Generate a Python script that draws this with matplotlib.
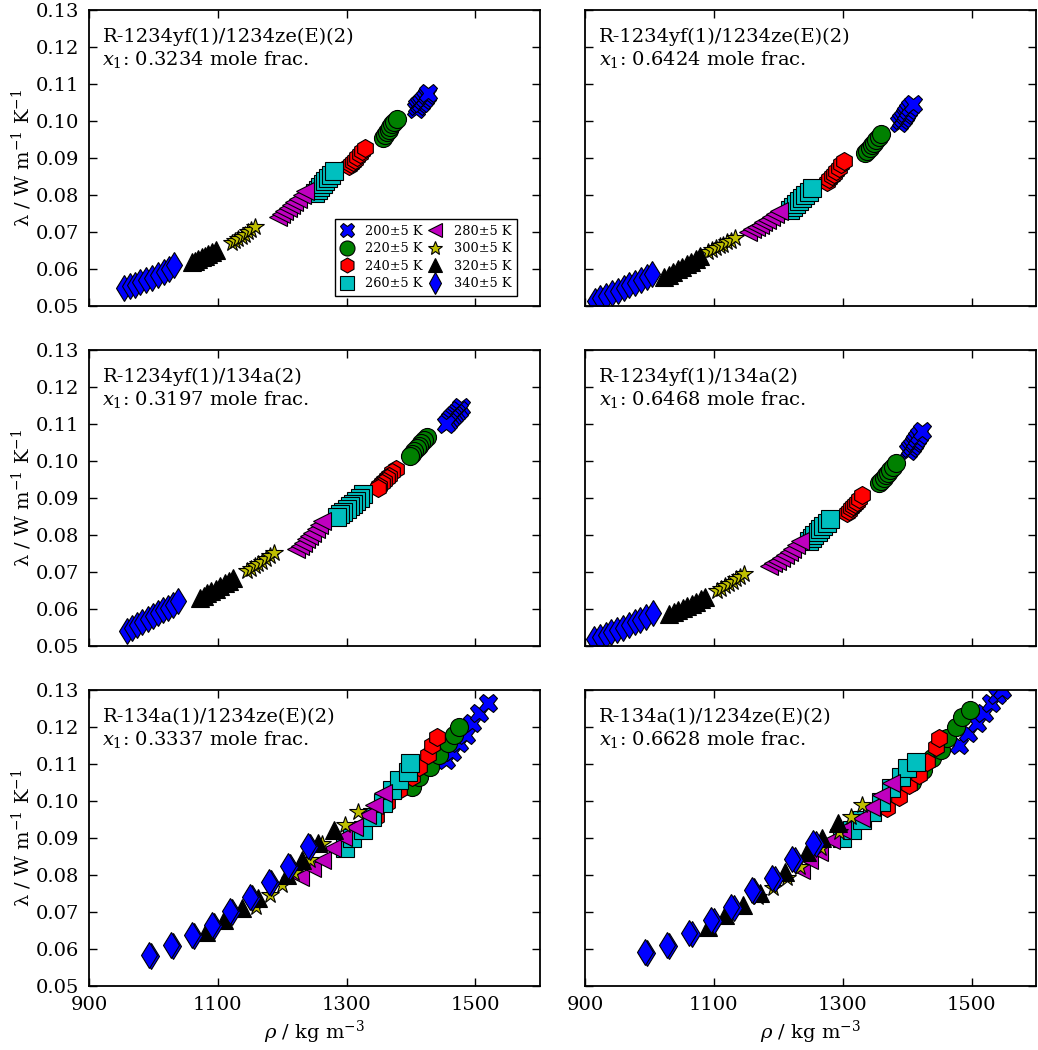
import matplotlib
matplotlib.use("Agg")
import matplotlib.pyplot as plt

plt.rcParams['font.family'] = ['DejaVu Serif']
plt.rcParams['mathtext.fontset'] = 'dejavuserif'
plt.rcParams['axes.linewidth'] = 1.3

temps = ['200±5 K', '220±5 K', '240±5 K', '260±5 K',
         '280±5 K', '300±5 K', '320±5 K', '340±5 K']
markers = ['X', 'o', 'h', 's', '<', '*', '^', 'd']
colors = ['b', 'g', 'r', 'c', 'm', 'y', 'k', 'b']

mixtures = ['R-1234yf(1)/1234ze(E)(2)', 'R-1234yf(1)/1234ze(E)(2)',
            'R-1234yf(1)/134a(2)', 'R-1234yf(1)/134a(2)',
            'R-134a(1)/1234ze(E)(2)', 'R-134a(1)/1234ze(E)(2)']
x1 = ['0.3234', '0.6424', '0.3197', '0.6468', '0.3337', '0.6628']

# density (kg/m3) and conductivity (W/m/K), one list per temperature, 200 K ... 340 K
rho_a = [[1407, 1410, 1413, 1415, 1418, 1421, 1424, 1427],
         [1356, 1359, 1362, 1365, 1368, 1371, 1374, 1378],
         [1304, 1307, 1310, 1313, 1316, 1320, 1324, 1328],
         [1251, 1255, 1259, 1263, 1267, 1271, 1275, 1280],
         [1193, 1198, 1203, 1209, 1214, 1219, 1225, 1231, 1236],
         [1122, 1127, 1132, 1137, 1142, 1147, 1152, 1158],
         [1060, 1065, 1070, 1075, 1080, 1085, 1091, 1097],
         [955, 963, 971, 980, 989, 998, 1007, 1016, 1025, 1032]]
lam_a = [[0.1033, 0.1040, 0.1046, 0.1050, 0.1057, 0.1063, 0.1069, 0.1076],
         [0.0955, 0.0962, 0.0970, 0.0977, 0.0984, 0.0991, 0.0998, 0.1006],
         [0.0878, 0.0884, 0.0890, 0.0896, 0.0902, 0.0910, 0.0918, 0.0927],
         [0.0805, 0.0813, 0.0822, 0.0830, 0.0838, 0.0846, 0.0855, 0.0865],
         [0.0742, 0.0749, 0.0757, 0.0765, 0.0773, 0.0781, 0.0790, 0.0800, 0.0812],
         [0.0670, 0.0676, 0.0681, 0.0687, 0.0693, 0.0699, 0.0705, 0.0713],
         [0.0619, 0.0623, 0.0628, 0.0632, 0.0636, 0.0640, 0.0645, 0.0651],
         [0.0548, 0.0553, 0.0558, 0.0564, 0.0570, 0.0577, 0.0584, 0.0592, 0.0601, 0.0610]]

rho_b = [[1387, 1390, 1393, 1396, 1399, 1402, 1405, 1409],
         [1335, 1338, 1342, 1345, 1349, 1352, 1356, 1360],
         [1276, 1279, 1283, 1286, 1290, 1294, 1298, 1302],
         [1219, 1223, 1228, 1232, 1237, 1242, 1247, 1253],
         [1153, 1159, 1165, 1171, 1177, 1183, 1189, 1195, 1201],
         [1091, 1097, 1103, 1109, 1115, 1121, 1127, 1133],
         [1023, 1030, 1037, 1044, 1051, 1058, 1065, 1072, 1078],
         [915, 924, 933, 942, 951, 960, 969, 978, 987, 996, 1004]]
lam_b = [[0.0995, 0.1002, 0.1009, 0.1016, 0.1023, 0.1030, 0.1038, 0.1047],
         [0.0914, 0.0920, 0.0927, 0.0934, 0.0941, 0.0948, 0.0956, 0.0964],
         [0.0836, 0.0843, 0.0851, 0.0858, 0.0866, 0.0874, 0.0883, 0.0893],
         [0.0760, 0.0767, 0.0775, 0.0783, 0.0791, 0.0800, 0.0809, 0.0820],
         [0.0701, 0.0707, 0.0713, 0.0719, 0.0726, 0.0733, 0.0740, 0.0748, 0.0757],
         [0.0646, 0.0651, 0.0656, 0.0661, 0.0666, 0.0672, 0.0677, 0.0684],
         [0.0578, 0.0585, 0.0592, 0.0599, 0.0606, 0.0613, 0.0620, 0.0628, 0.0636],
         [0.0515, 0.0521, 0.0528, 0.0535, 0.0542, 0.0549, 0.0556, 0.0563, 0.0571, 0.0579, 0.0588]]

rho_c = [[1478, 1474, 1470, 1467, 1464, 1461, 1458, 1455],
         [1425, 1420, 1416, 1412, 1409, 1405, 1402, 1399],
         [1376, 1371, 1366, 1362, 1358, 1355, 1351, 1348],
         [1325, 1320, 1315, 1310, 1305, 1300, 1295, 1290, 1285],
         [1222, 1227, 1232, 1237, 1242, 1247, 1252, 1257, 1262],
         [1146, 1151, 1157, 1163, 1169, 1175, 1181, 1188],
         [1072, 1078, 1084, 1090, 1097, 1104, 1111, 1118, 1123],
         [959, 967, 975, 983, 991, 999, 1007, 1015, 1023, 1031, 1038]]
lam_c = [[0.1147, 0.1138, 0.1130, 0.1124, 0.1118, 0.1112, 0.1106, 0.1100],
         [0.1066, 0.1056, 0.1048, 0.1041, 0.1034, 0.1027, 0.1020, 0.1014],
         [0.0979, 0.0969, 0.0960, 0.0953, 0.0946, 0.0940, 0.0933, 0.0927],
         [0.0910, 0.0901, 0.0893, 0.0885, 0.0877, 0.0870, 0.0863, 0.0856, 0.0849],
         [0.0762, 0.0770, 0.0779, 0.0788, 0.0797, 0.0806, 0.0816, 0.0827, 0.0839],
         [0.0703, 0.0709, 0.0715, 0.0721, 0.0728, 0.0735, 0.0742, 0.0751],
         [0.0630, 0.0636, 0.0642, 0.0648, 0.0655, 0.0662, 0.0669, 0.0677, 0.0684],
         [0.0541, 0.0549, 0.0557, 0.0565, 0.0572, 0.0580, 0.0588, 0.0596, 0.0604, 0.0612, 0.0621]]

rho_d = [[1402, 1404, 1407, 1410, 1413, 1416, 1419, 1423],
         [1357, 1360, 1364, 1367, 1371, 1374, 1378, 1383],
         [1307, 1310, 1313, 1316, 1319, 1322, 1326, 1330],
         [1248, 1252, 1256, 1261, 1265, 1270, 1275, 1281],
         [1186, 1192, 1198, 1204, 1210, 1216, 1222, 1228, 1233],
         [1105, 1111, 1117, 1123, 1129, 1135, 1141, 1147],
         [1031, 1038, 1045, 1052, 1059, 1066, 1073, 1080, 1086],
         [914, 923, 932, 941, 950, 959, 968, 977, 986, 995, 1005]]
lam_d = [[0.1027, 0.1034, 0.1041, 0.1048, 0.1055, 0.1062, 0.1070, 0.1080],
         [0.0940, 0.0947, 0.0954, 0.0961, 0.0968, 0.0976, 0.0984, 0.0994],
         [0.0860, 0.0866, 0.0872, 0.0878, 0.0884, 0.0890, 0.0898, 0.0907],
         [0.0784, 0.0791, 0.0799, 0.0807, 0.0815, 0.0823, 0.0832, 0.0843],
         [0.0716, 0.0723, 0.0730, 0.0738, 0.0746, 0.0754, 0.0763, 0.0773, 0.0783],
         [0.0649, 0.0655, 0.0661, 0.0667, 0.0674, 0.0680, 0.0687, 0.0695],
         [0.0586, 0.0591, 0.0597, 0.0602, 0.0608, 0.0614, 0.0620, 0.0626, 0.0633],
         [0.0518, 0.0524, 0.0530, 0.0537, 0.0543, 0.0550, 0.0557, 0.0564, 0.0571, 0.0579, 0.0588]]

rho_e = [[1455, 1464, 1475, 1486, 1495, 1506, 1519],
         [1401, 1413, 1429, 1444, 1457, 1467, 1475],
         [1346, 1362, 1382, 1401, 1413, 1426, 1433, 1440],
         [1297, 1309, 1325, 1340, 1356, 1371, 1382, 1395, 1398],
         [1227, 1246, 1261, 1278, 1294, 1312, 1331, 1343, 1356],
         [1160, 1181, 1199, 1219, 1243, 1261, 1297, 1317],
         [1081, 1109, 1137, 1162, 1207, 1230, 1255, 1280],
         [997, 993, 1031, 1027, 1063, 1060, 1094, 1091, 1122, 1119,
          1153, 1150, 1182, 1179, 1212, 1209, 1243, 1240]]
lam_e = [[0.1110, 0.1132, 0.1157, 0.1178, 0.1211, 0.1238, 0.1265],
         [0.1038, 0.1065, 0.1092, 0.1124, 0.1157, 0.1178, 0.1200],
         [0.0957, 0.0995, 0.1030, 0.1065, 0.1092, 0.1124, 0.1151, 0.1173],
         [0.0873, 0.0900, 0.0922, 0.0957, 0.0995, 0.1030, 0.1057, 0.1078, 0.1103],
         [0.0795, 0.0819, 0.0841, 0.0873, 0.0903, 0.0930, 0.0962, 0.0989, 0.1022],
         [0.0713, 0.0745, 0.0773, 0.0805, 0.0841, 0.0884, 0.0935, 0.0970],
         [0.0646, 0.0678, 0.0711, 0.0738, 0.0800, 0.0841, 0.0886, 0.0922],
         [0.0581, 0.0584, 0.0608, 0.0611, 0.0635, 0.0638, 0.0662, 0.0665, 0.0700, 0.0703,
          0.0738, 0.0741, 0.0778, 0.0781, 0.0821, 0.0824, 0.0875, 0.0878]]

rho_f = [[1481, 1494, 1508, 1520, 1531, 1540, 1548],
         [1408, 1424, 1439, 1453, 1462, 1476, 1486, 1497],
         [1369, 1388, 1403, 1419, 1431, 1445, 1450],
         [1299, 1315, 1330, 1346, 1360, 1375, 1391, 1400, 1414],
         [1236, 1248, 1264, 1282, 1299, 1329, 1344, 1360, 1375],
         [1169, 1192, 1214, 1234, 1267, 1295, 1313, 1330],
         [1091, 1118, 1145, 1172, 1211, 1245, 1268, 1293],
         [997, 993, 1031, 1027, 1066, 1062, 1100, 1096, 1131, 1127,
          1163, 1159, 1195, 1191, 1226, 1222, 1258, 1254]]
lam_f = [[0.1151, 0.1184, 0.1211, 0.1238, 0.1265, 0.1286, 0.1300],
         [0.1051, 0.1084, 0.1116, 0.1138, 0.1170, 0.1200, 0.1227, 0.1246],
         [0.0981, 0.1011, 0.1043, 0.1070, 0.1105, 0.1146, 0.1170],
         [0.0900, 0.0922, 0.0949, 0.0970, 0.0997, 0.1035, 0.1065, 0.1089, 0.1105],
         [0.0814, 0.0841, 0.0862, 0.0895, 0.0922, 0.0954, 0.0984, 0.1016, 0.1049],
         [0.0741, 0.0765, 0.0792, 0.0822, 0.0873, 0.0916, 0.0957, 0.0989],
         [0.0660, 0.0692, 0.0719, 0.0751, 0.0808, 0.0862, 0.0900, 0.0941],
         [0.0589, 0.0592, 0.0608, 0.0611, 0.0640, 0.0643, 0.0675, 0.0678, 0.0711, 0.0714,
          0.0757, 0.0760, 0.0789, 0.0792, 0.0840, 0.0843, 0.0883, 0.0886]]

rhos = [rho_a, rho_b, rho_c, rho_d, rho_e, rho_f]
lams = [lam_a, lam_b, lam_c, lam_d, lam_e, lam_f]

fig = plt.figure(figsize=(10.38, 10.5), dpi=100)
axes = fig.subplots(3, 2, sharex=True, sharey=True)
fig.subplots_adjust(left=0.0857, right=0.998, top=0.9905, bottom=0.061,
                    wspace=0.1, hspace=0.148)

for i, ax in enumerate(axes.flat):
    for j in range(8):
        ax.plot(rhos[i][j], lams[i][j], linestyle='none', marker=markers[j],
                color=colors[j], markersize=13, markeredgecolor='k',
                markeredgewidth=0.8, label=temps[j])
    ax.text(0.03, 0.94, mixtures[i] + '\n' + '$x_1$: ' + x1[i] + ' mole frac.',
            transform=ax.transAxes, va='top', ha='left', fontsize=14)
    ax.tick_params(direction='in', top=True, right=True, length=6, width=1,
                   labelsize=14, pad=7)

ax = axes[0, 0]
ax.set_xlim(900, 1600)
ax.set_ylim(0.05, 0.13)
ax.set_xticks([900, 1100, 1300, 1500])
ax.set_yticks([0.05, 0.06, 0.07, 0.08, 0.09, 0.10, 0.11, 0.12, 0.13])
ax.yaxis.set_major_formatter(matplotlib.ticker.FormatStrFormatter('%.2f'))

for r in range(3):
    axes[r, 0].set_ylabel('λ / W m$^{-1}$ K$^{-1}$', fontsize=14, labelpad=1)
for c in range(2):
    axes[2, c].set_xlabel(r'$\rho$ / kg m$^{-3}$', fontsize=14)

leg = axes[0, 0].legend(ncol=2, loc='lower right', bbox_to_anchor=(0.949, 0.034),
                        borderaxespad=0, fontsize=9.3, markerscale=0.83, numpoints=1,
                        handlelength=1.0, handletextpad=0.9, columnspacing=0.5,
                        borderpad=0.45, labelspacing=0.35, fancybox=False, framealpha=1)
leg.get_frame().set_edgecolor('k')
leg.get_frame().set_linewidth(1.0)

fig.savefig('out.png', dpi=100)
